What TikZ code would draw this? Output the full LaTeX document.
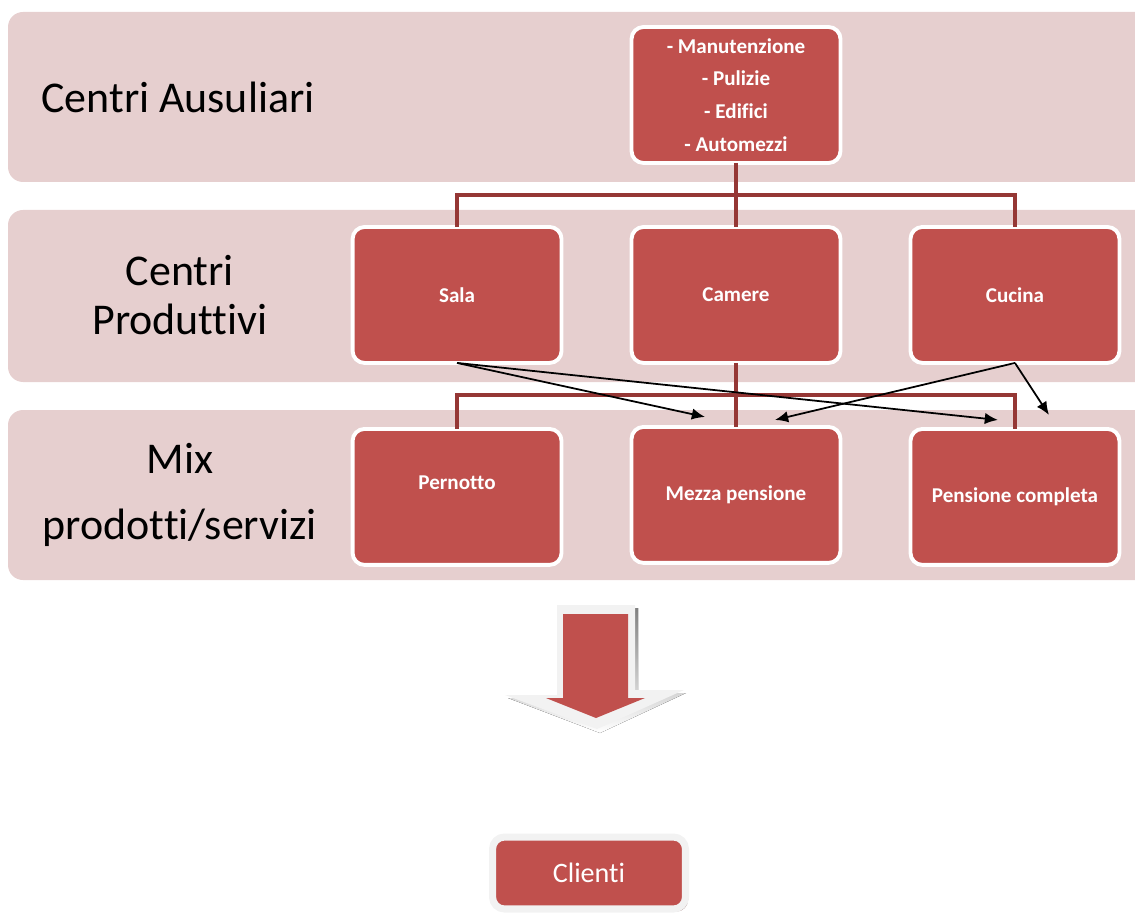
\documentclass[tikz,border=0pt]{standalone}
\usepackage{fontspec}
\setmainfont{Carlito}[Ligatures=NoCommon]
\usetikzlibrary{positioning}
\usetikzlibrary{calc}
\usetikzlibrary{arrows.meta}
\usetikzlibrary{shadows}
\definecolor{bandpink}{RGB}{230,207,207}
\definecolor{boxred}{RGB}{192,80,77}
\definecolor{treered}{RGB}{149,55,53}
\definecolor{paleframe}{RGB}{242,242,242}
\definecolor{shade}{RGB}{125,80,80}
\tikzset{
	every node/.style={outer sep=0pt},
	band/.style={fill=bandpink, rounded corners=0.3cm},
	lab/.style={align=center, font=\fontsize{25}{28}\selectfont},
	box/.style={rectangle, rounded corners=0.24cm, draw=white, line width=2.2pt, fill=boxred,
		text=white, align=center, minimum width=4.18cm, minimum height=2.72cm,
		font=\fontsize{12}{18.7}\selectfont\bfseries},
	tree/.style={draw=treered, line width=2.6pt},
	flow/.style={-{Latex[length=7.5pt,width=6.5pt]}, black, line width=1pt},
	endbox/.style={rectangle, rounded corners=0.24cm, draw=paleframe, line width=4pt, fill=boxred,
		text=white, minimum width=3.86cm, minimum height=1.44cm, font=\fontsize{16}{19}\selectfont,
		drop shadow={shadow xshift=1.5pt, shadow yshift=-1.5pt, fill=shade, opacity=0.8}}
}

\begin{document}
\begin{tikzpicture}[x=0.02cm, y=0.02cm]
	\useasboundingbox (0,0) rectangle (1135,-915);
	
	% Bands
	\begin{scope}
		\clip (0,0) rectangle (1135,-915);
		\path[band] (8,-12) rectangle (1180,-182);
		\path[band] (8,-210) rectangle (1180,-382);
		\path[band] (8,-410) rectangle (1180,-580);
	\end{scope}
	
	\node (aus-lab) [lab] at (178,-97) {Centri Ausuliari};
	\node (prod-lab) [lab] at (180,-295) {Centri\\Produttivi};
	\node (mix-lab) [lab] at (180,-495) {Mix\\[10pt]prodotti/servizi};
	
	\node (aus) [box] at (736,-95) {- Manutenzione\\- Pulizie\\- Edifici\\- Automezzi};
	\node (camere) [box, below = 1.28cm of aus] {Camere};
	\node (sala) [box, left = 1.4cm of camere] {Sala};
	\node (cucina) [box, right = 1.4cm of camere] {Cucina};
	\node (mezza) [box, below = 1.28cm of camere] {Mezza pensione};
	\node (pern) [box, below = 1.32cm of sala] {\raisebox{8pt}[\height][\depth]{Pernotto}};
	\node (compl) [box, below = 1.32cm of cucina] {Pensione completa};
	
	\coordinate (b1) at ($(aus.south)!0.5!(camere.north)$);
	\coordinate (b2) at ($(camere.south)!0.5!(mezza.north)$);
	\draw[tree] (aus.south) -- (camere.north);
	\draw[tree] (sala.north) |- (b1) -| (cucina.north);
	\draw[tree] (camere.south) -- (mezza.north);
	\draw[tree] (pern.north) |- (b2) -| (compl.north);
	
	\coordinate (mz1) at ([shift={(-31,10)}]mezza.north);
	\coordinate (mz2) at ([shift={(39,7)}]mezza.north);
	\coordinate (cp1) at ([shift={(-17,9)}]compl.north);
	\coordinate (cp2) at ([shift={(34,14)}]compl.north);
	\draw[flow] (sala.south) -- (mz1);
	\draw[flow] (sala.south) -- (cp1);
	\draw[flow] (cucina.south) -- (mz2);
	\draw[flow] (cucina.south) -- (cp2);
	
	% Big arrow
	\fill[shade] (560,-608) -- (638,-608) -- (638,-693) -- (686,-693) -- (600,-733) -- (508,-698) -- (560,-698) -- cycle;
	\fill[paleframe] (557,-605) -- (635,-605) -- (635,-690) -- (684,-690) -- (597,-729) -- (505,-695) -- (557,-695) -- cycle;
	\fill[boxred] (563,-614) -- (628,-614) -- (628,-698) -- (645,-698) -- (596,-718) -- (546,-698) -- (563,-698) -- cycle;
	
	\node (clienti) [endbox] at (589,-873) {Clienti};
\end{tikzpicture}
\end{document}
